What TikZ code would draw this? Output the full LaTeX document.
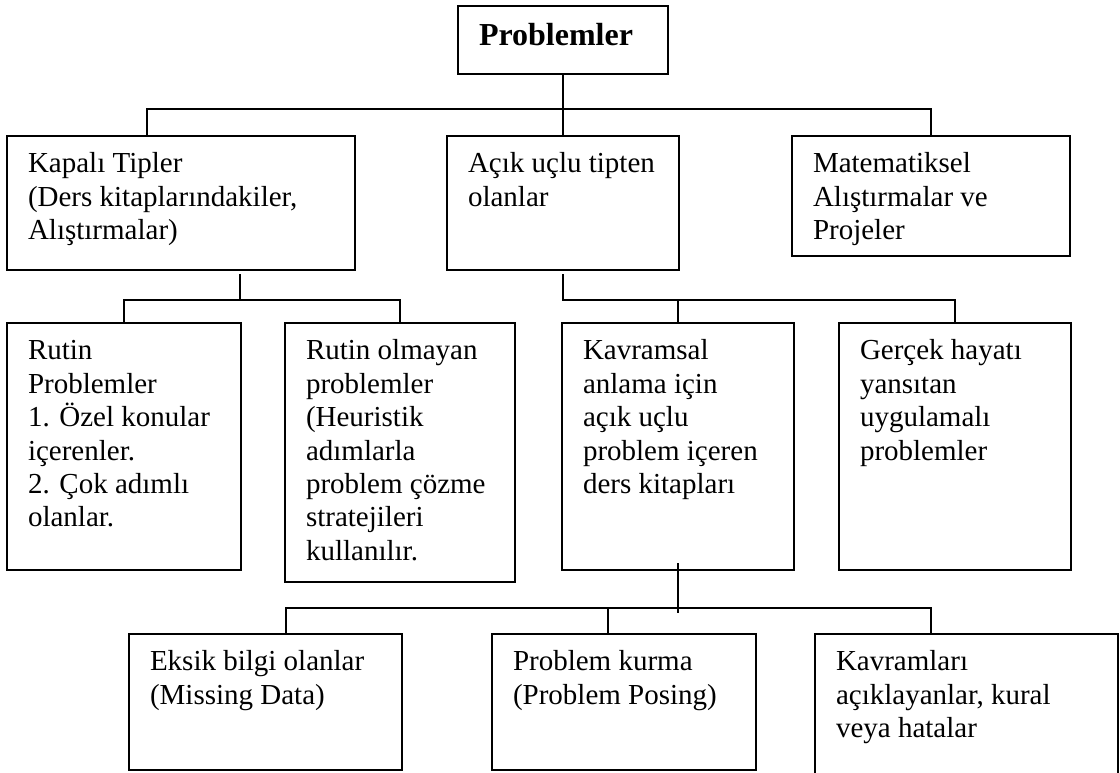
\documentclass[tikz,border=0pt]{standalone}
\usepackage{fontspec}
\setmainfont{Liberation Serif}
\tikzset{
  boxshape/.style={draw=black, line width=1.6pt, rectangle, inner sep=0pt, outer sep=0pt},
  txt/.style={anchor=north west, inner sep=0pt, outer sep=0pt, align=left,
              font=\fontsize{29}{33.4}\selectfont},
  title/.style={anchor=north west, inner sep=0pt, outer sep=0pt, align=left,
              font=\fontsize{32}{36}\selectfont\bfseries},
  conn/.style={draw=black, line width=1.6pt},
}
\newcommand\mkbox[6]{%
  \node[boxshape, minimum width=#4pt, minimum height=#5pt] (#1) at ({#2+#4/2},{#3+#5/2}) {};
  \node[txt] (#1t) at ([xshift=21pt,yshift=-13.6pt]#1.north west) {\strut #6};
}
\begin{document}
\begin{tikzpicture}[x=1pt,y=-1pt]
\useasboundingbox (0,0) rectangle (1120,773);
\fill[white] (0,0) rectangle (1120,773);
% top
\node[boxshape, minimum width=210pt, minimum height=68pt] (P) at (563,40) {};
\node[title] (Pt) at ([xshift=21pt,yshift=-14.8pt]P.north west) {\strut Problemler};
% level 1
\mkbox{K}{7}{136}{348}{134}{Kapalı Tipler\\(Ders kitaplarındakiler,\\Alıştırmalar)}
\mkbox{A}{447}{136}{232}{134}{Açık uçlu tipten\\olanlar}
\mkbox{M}{792}{136}{278}{120}{Matematiksel\\Alıştırmalar ve\\Projeler}
% level 2
\mkbox{R1}{7}{323}{234}{247}{Rutin\\Problemler\\1. Özel konular\\içerenler.\\2. Çok adımlı\\olanlar.}
\mkbox{R2}{285}{323}{230}{259}{Rutin olmayan\\problemler\\(Heuristik\\adımlarla\\problem çözme\\stratejileri\\kullanılır.}
\mkbox{KV}{562}{323}{232}{247}{Kavramsal\\anlama için\\açık uçlu\\problem içeren\\ders kitapları}
\mkbox{G}{839}{323}{232}{247}{Gerçek hayatı\\yansıtan\\uygulamalı\\problemler}
% level 3
\mkbox{E}{129}{634}{273}{136}{Eksik bilgi olanlar\\(Missing Data)}
\mkbox{PK}{492}{634}{264}{136}{Problem kurma\\(Problem Posing)}
\mkbox{KL}{815}{634}{303}{150}{Kavramları\\açıklayanlar, kural\\veya hatalar}
% connectors
\coordinate (h1L) at (147,109);
\coordinate (h1R) at (931,109);
\draw[conn] (P.south) -- (A.north);
\draw[conn] (K.north -| h1L) -- (h1L) -- (h1R) -- (M.north);
\coordinate (k1) at (240,300);
\draw[conn] ([yshift=-4pt]K.south -| k1) -- (k1);
\draw[conn] (R1.north) -- (R1.north |- k1) -- (R2.north |- k1) -- (R2.north);
\draw[conn] ([yshift=-4pt]A.south) -- (A.south |- k1) -- (G.north |- k1) -- (G.north);
\draw[conn] (KV.north) -- (KV.north |- k1);
\coordinate (bL) at (286,608);
\coordinate (bM) at (608,608);
\coordinate (bR) at (931,608);
\draw[conn] ([yshift=7pt]KV.south) -- ([yshift=-43pt]KV.south);
\draw[conn] (E.north -| bL) -- (bL) -- (bR) -- (KL.north -| bR);
\draw[conn] (bM) -- (PK.north -| bM);
\end{tikzpicture}
\end{document}
